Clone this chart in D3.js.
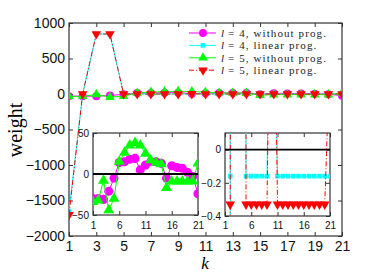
<!DOCTYPE html>
<html>
<head>
<meta charset="utf-8">
<script src="https://cdn.jsdelivr.net/npm/d3@7"></script>
<style>
body{margin:0;background:#fff;}
svg{display:block;font-family:"Liberation Sans",Arial,sans-serif;}
.axis path,.axis line{stroke:#333;}
.axis text{fill:#111;}
</style>
</head>
<body>
<svg id="chart" width="388" height="277"></svg>
<script>
// k = 1..21
var ks = d3.range(1,22);
// l=4 without prog. (magenta circles)
var l4plain = [-30,-30,-31,-21,-5,14,15,18,19,5,11,15,15,13,-5,10,8,7,2,-3,-24];
// l=4 linear prog. (cyan squares)
var l4lin = [-1650,-0.16,845,845,-0.16,-0.16,-0.16,-0.16,-0.16,2,-0.16,-0.16,-0.16,-0.16,-0.16,-0.16,-0.16,-0.16,-0.16,-0.16,-0.16];
// l=5 without prog. (green triangles)
var l5plain = [-34,-32,-8,-44,-30,15,26,35,38,35,25,17,14,12,-17,-9,-9,-9,-9,-9,13];
// l=5 linear prog. (red triangles)
var l5lin = [-1700,-0.33,845,845,-0.33,-0.33,-0.33,-0.33,-0.33,2,-0.33,-0.33,-0.33,-0.33,-0.33,-0.33,-0.33,-0.33,-0.33,-0.33,0.6];

var mainXTicks = [1,3,5,7,9,11,13,15,17,19,21];
var mainYTicks = [-2000,-1500,-1000,-500,0,500,1000];
var insetXTicks = [1,6,11,16,21];
var inset1YTicks = [-50,0,50];
var inset2YTicks = [-0.4,-0.2,0];

var seriesList = [
	{name:"= 4, without prog.",vals:l4plain,color:"#ff00ff",sym:d3.symbolCircle,size:50,dash:null},
	{name:"= 4, linear prog.",vals:l4lin,color:"#00ffff",sym:d3.symbolSquare,size:22,dash:null},
	{name:"= 5, without prog.",vals:l5plain,color:"#00ff00",sym:d3.symbolTriangle,size:40,dash:null},
	{name:"= 5, linear prog.",vals:l5lin,color:"#ff0000",sym:d3.symbolTriangle,size:40,dash:"5,2,1,2",down:true}
];

var svg = d3.select("#chart");
var fmtInt = d3.format("d");
var fmtDec = function(d){return d===0?"0":d3.format(".1f")(d);};

function panel(x0,x1,y0,y1,xd,yd,xt,yt,yfmt,fs,pad,id){
	var x = d3.scaleLinear().domain(xd).range([x0,x1]);
	var y = d3.scaleLinear().domain(yd).range([y1,y0]);
	var g = svg.append("g");
	g.append("rect").attr("x",x0).attr("y",y0).attr("width",x1-x0).attr("height",y1-y0).attr("fill","#fff");
	g.append("clipPath").attr("id",id).append("rect").attr("x",x0).attr("y",y0).attr("width",x1-x0).attr("height",y1-y0);
	var ax = [
		g.append("g").attr("transform","translate(0,"+y1+")").call(d3.axisBottom(x).tickValues(xt).tickFormat(fmtInt).tickSizeInner(-4).tickSizeOuter(0).tickPadding(pad)),
		g.append("g").attr("transform","translate(0,"+y0+")").call(d3.axisTop(x).tickValues(xt).tickSizeInner(-4).tickSizeOuter(0).tickFormat("")),
		g.append("g").attr("transform","translate("+x0+",0)").call(d3.axisLeft(y).tickValues(yt).tickFormat(yfmt).tickSizeInner(-4).tickSizeOuter(0).tickPadding(4)),
		g.append("g").attr("transform","translate("+x1+",0)").call(d3.axisRight(y).tickValues(yt).tickSizeInner(-4).tickSizeOuter(0).tickFormat(""))
	];
	ax.forEach(function(a){a.attr("class","axis").style("font-size",fs+"px"); a.select(".domain").remove();});
	g.append("rect").attr("x",x0).attr("y",y0).attr("width",x1-x0).attr("height",y1-y0)
		.attr("fill","none").attr("stroke","#333").attr("stroke-width",1.2);
	var plot = g.append("g").attr("clip-path","url(#"+id+")");
	return {x:x,y:y,g:g,plot:plot};
}

function drawSeries(p,s,scale){
	var line = d3.line().x(function(d,i){return p.x(ks[i]);}).y(function(d){return p.y(d);});
	p.plot.append("path").datum(s.vals).attr("d",line).attr("fill","none")
		.attr("stroke",s.color).attr("stroke-width",1).attr("stroke-dasharray",s.dash);
	var sym = d3.symbol().type(s.sym).size(s.size*scale);
	p.plot.selectAll(null).data(s.vals).enter().append("path")
		.attr("d",sym)
		.attr("transform",function(d,i){return "translate("+p.x(ks[i])+","+p.y(d)+")"+(s.down?" rotate(180)":"");})
		.attr("fill",s.color);
}

// main axes
var main = panel(69,342,23,236,[1,21],[-2000,1000],mainXTicks,mainYTicks,fmtInt,14,5,"clipMain");
seriesList.forEach(function(s){drawSeries(main,s,1);});

// inset 1: without prog.
var in1 = panel(93,198,133,215,[1,21],[-50,50],insetXTicks,inset1YTicks,fmtInt,10,7,"clipIn1");
[seriesList[0],seriesList[2]].forEach(function(s){drawSeries(in1,s,1.3);});
in1.plot.append("line").attr("x1",93).attr("x2",198).attr("y1",in1.y(0)).attr("y2",in1.y(0))
	.attr("stroke","#000").attr("stroke-width",1.8);

// inset 2: linear prog.
var in2 = panel(225,330,133,216,[1,21],[-0.4,0.1],insetXTicks,inset2YTicks,fmtDec,10,6,"clipIn2");
[seriesList[1],seriesList[3]].forEach(function(s){drawSeries(in2,s,1);});
in2.plot.append("line").attr("x1",225).attr("x2",330).attr("y1",in2.y(0)).attr("y2",in2.y(0))
	.attr("stroke","#000").attr("stroke-width",1.8);

// legend
var leg = svg.append("g").style("font-family","'Liberation Serif','DejaVu Serif',serif").style("font-size","11px");
seriesList.forEach(function(s,i){
	var yy = 33+i*12.4;
	leg.append("line").attr("x1",189).attr("x2",216).attr("y1",yy).attr("y2",yy)
		.attr("stroke",s.color).attr("stroke-width",1).attr("stroke-dasharray",s.dash);
	leg.append("path").attr("d",d3.symbol().type(s.sym).size(s.size)())
		.attr("transform","translate(203,"+yy+")"+(s.down?" rotate(180)":"")).attr("fill",s.color);
	leg.append("text").attr("x",221).attr("y",yy+4).attr("fill","#222").style("font-style","italic").text("l");
	leg.append("text").attr("x",228).attr("y",yy+4).attr("fill","#222").style("letter-spacing","1.1px").text(s.name);
});

// axis labels
svg.append("text").attr("transform","translate(22,130) rotate(-90)").attr("text-anchor","middle")
	.style("font-family","'Liberation Serif',serif").style("font-size","20px").text("weight");
svg.append("text").attr("x",205).attr("y",269).attr("text-anchor","middle")
	.style("font-family","'Liberation Serif',serif").style("font-style","italic").style("font-size","17px").text("k");
</script>
</body>
</html>
